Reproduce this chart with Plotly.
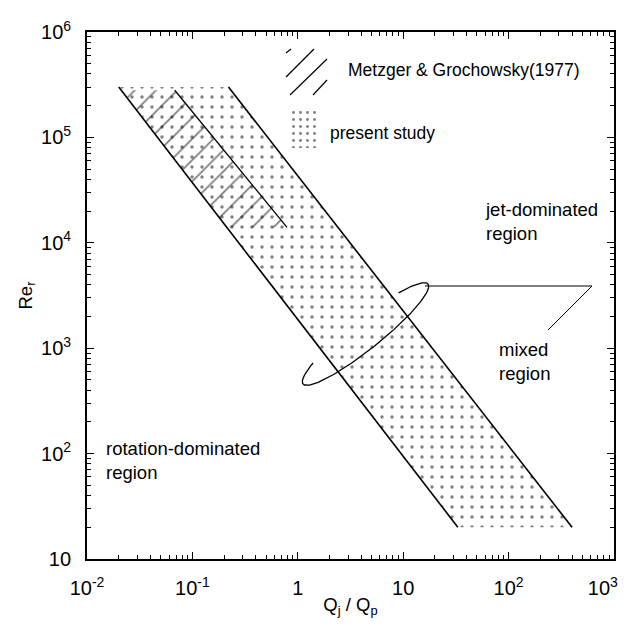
import numpy as np
import plotly.graph_objects as go

# ---------------- data ----------------
# present study band (Re_r at top / bottom, Qj/Qp of left and right edges)
band_re = [3.0e5, 20.0]
band_q_left = [0.02, 33.0]
band_q_right = [0.22, 400.0]

# Metzger & Grochowsky (1977) region
metzger_re = [2.8e5, 1.4e4]
metzger_q_right = [0.068, 0.79]

x_tickvals = [1e-2, 1e-1, 1, 10, 1e2, 1e3]
x_ticktext = ["10<sup>-2</sup>", "10<sup>-1</sup>", "1", "10", "10<sup>2</sup>",
              "10<sup>3</sup>&nbsp;&nbsp;&nbsp;&nbsp;"]
y_tickvals = [10, 1e2, 1e3, 1e4, 1e5, 1e6]
y_ticktext = ["10", "10<sup>2</sup>", "10<sup>3</sup>", "10<sup>4</sup>", "10<sup>5</sup>", "10<sup>6</sup>"]

# ---------------- layout geometry ----------------
PAGE_OFF = 8                      # default body margin of the html page
W_FIG, H_FIG = 627 - 2 * PAGE_OFF, 626 - 2 * PAGE_OFF
L, T, W, H = 87, 32, 527, 527     # plot area in screenshot pixels
XR = (-2, 3)
YR = (1, 6)
FONT = "Liberation Sans, Arial, Helvetica, sans-serif"


def px2data(px, py):
    px = np.asarray(px, float)
    py = np.asarray(py, float)
    lx = XR[0] + (px - L) / W * (XR[1] - XR[0])
    ly = YR[0] + (T + H - py) / H * (YR[1] - YR[0])
    return 10 ** lx, 10 ** ly


def px2paper(px, py):
    return (px - L) / W, (T + H - py) / H


def loginterp(re, re_pts, q_pts):
    """Qj/Qp on an edge of the band for a given Re (power law)."""
    lr = np.log10(re_pts)
    lq = np.log10(q_pts)
    t = (np.log10(re) - lr[0]) / (lr[1] - lr[0])
    return 10 ** (lq[0] + t * (lq[1] - lq[0]))


fig = go.Figure()

# dotted band (present study)
bx = [band_q_left[0], band_q_right[0], band_q_right[1], band_q_left[1], band_q_left[0]]
by = [band_re[0], band_re[0], band_re[1], band_re[1], band_re[0]]
fig.add_trace(go.Scatter(
    x=bx, y=by, mode="lines", fill="toself", line=dict(width=0),
    fillcolor="rgba(0,0,0,0)",
    fillpattern=dict(shape=".", size=10, solidity=0.09, fgcolor="black",
                     bgcolor="rgba(0,0,0,0)"),
    hoverinfo="skip", showlegend=False))

# hatched Metzger region
m_left = [loginterp(r, band_re, band_q_left) for r in metzger_re]
mx = [m_left[0], metzger_q_right[0], metzger_q_right[1], m_left[1], m_left[0]]
my = [metzger_re[0], metzger_re[0], metzger_re[1], metzger_re[1], metzger_re[0]]
fig.add_trace(go.Scatter(
    x=mx, y=my, mode="lines", fill="toself", line=dict(width=0),
    fillcolor="rgba(0,0,0,0)",
    fillpattern=dict(shape="/", size=15, solidity=0.12, fgcolor="black",
                     bgcolor="rgba(0,0,0,0)"),
    hoverinfo="skip", showlegend=False))

# band edges
for qs in (band_q_left, band_q_right):
    fig.add_trace(go.Scatter(x=qs, y=band_re, mode="lines",
                             line=dict(color="black", width=1.6),
                             hoverinfo="skip", showlegend=False))
# Metzger right boundary
fig.add_trace(go.Scatter(x=metzger_q_right, y=metzger_re, mode="lines",
                         line=dict(color="black", width=1.3),
                         hoverinfo="skip", showlegend=False))

# ellipse around mixed region (open arc)
cx, cy = 365.5, 334.0
a, b = 80.0, 15.0
u = np.array([125.0, -100.0]); u /= np.linalg.norm(u)
n = np.array([-u[1], u[0]])
if n[1] < 0:
    n = -n
t = np.linspace(-0.87, np.pi + 0.74, 200)
ex = cx + a * np.cos(t) * u[0] + b * np.sin(t) * n[0]
ey = cy + a * np.cos(t) * u[1] + b * np.sin(t) * n[1]
ex_d, ey_d = px2data(ex, ey)
fig.add_trace(go.Scatter(x=ex_d, y=ey_d, mode="lines",
                         line=dict(color="black", width=1.3),
                         hoverinfo="skip", showlegend=False))

# leader line
lx_d, ly_d = px2data([425, 592, 548], [286, 286, 330])
fig.add_trace(go.Scatter(x=lx_d, y=ly_d, mode="lines",
                         line=dict(color="black", width=1),
                         hoverinfo="skip", showlegend=False))

# legend swatch: present study (dots)
sx, sy = px2data([291, 320, 320, 291, 291], [111, 111, 148, 148, 111])
fig.add_trace(go.Scatter(
    x=sx, y=sy, mode="lines", fill="toself", line=dict(width=0),
    fillcolor="rgba(0,0,0,0)",
    fillpattern=dict(shape=".", size=7, solidity=0.13, fgcolor="black",
                     bgcolor="rgba(0,0,0,0)"),
    hoverinfo="skip", showlegend=False))

# legend swatch: Metzger (hatch segments)
shapes = []
for (x0, y0, x1, y1) in [(286, 53, 291, 49), (286, 77, 314, 49),
                         (290, 95, 327, 59), (313, 95, 327, 80)]:
    p0 = px2paper(x0, y0)
    p1 = px2paper(x1, y1)
    shapes.append(dict(type="line", xref="paper", yref="paper",
                       x0=p0[0], y0=p0[1], x1=p1[0], y1=p1[1],
                       line=dict(color="black", width=1.2)))


def ann(text, px, py, size=18.5, xanchor="left"):
    x, y = px2paper(px, py)
    return dict(text=text, x=x, y=y, xref="paper", yref="paper",
                xanchor=xanchor, yanchor="middle", showarrow=False,
                align="left", font=dict(size=size, color="black", family=FONT))


annotations = [
    ann("Metzger &amp; Grochowsky(1977)", 346, 70, size=17.5),
    ann("present study", 328, 133, size=17.5),
    ann("jet-dominated<br>region", 483, 221),
    ann("mixed<br>region", 497, 361),
    ann("rotation-dominated<br>region", 104, 460),
]

axis_common = dict(
    type="log", showline=True, linecolor="black", linewidth=1.8,
    mirror="allticks", ticks="inside", ticklen=7, tickwidth=1,
    tickcolor="black", showgrid=False, zeroline=False, automargin=False,
    tickfont=dict(size=20, color="black", family=FONT),
    ticklabeloverflow="allow",
)

minor_x = [k * 10.0 ** e for e in range(-2, 3) for k in range(2, 10)]
minor_y = [k * 10.0 ** e for e in range(1, 6) for k in range(2, 10)]

fig.update_layout(
    width=W_FIG, height=H_FIG, autosize=False,
    margin=dict(l=L - PAGE_OFF, r=W_FIG - (L - PAGE_OFF) - W,
                t=T - PAGE_OFF, b=H_FIG - (T - PAGE_OFF) - H, pad=0),
    paper_bgcolor="white", plot_bgcolor="white",
    font=dict(family=FONT, color="black"),
    xaxis=dict(axis_common, range=list(XR), tickmode="array",
               tickvals=x_tickvals, ticktext=x_ticktext,
               minor=dict(tickvals=minor_x, ticks="inside", ticklen=4,
                          tickcolor="black", tickwidth=1),
               ticklabelstandoff=10,
               title=dict(text="Q<sub>j</sub> / Q<sub>p</sub>",
                          font=dict(size=18.5, family=FONT), standoff=2)),
    yaxis=dict(axis_common, range=list(YR), tickmode="array",
               tickvals=y_tickvals, ticktext=y_ticktext,
               minor=dict(tickvals=minor_y, ticks="inside", ticklen=4,
                          tickcolor="black", tickwidth=1),
               ticklabelstandoff=10,
               title=dict(text="Re<sub>r</sub>",
                          font=dict(size=18.5, family=FONT), standoff=4)),
    shapes=shapes,
    annotations=annotations,
)

fig.write_html("out.html")
